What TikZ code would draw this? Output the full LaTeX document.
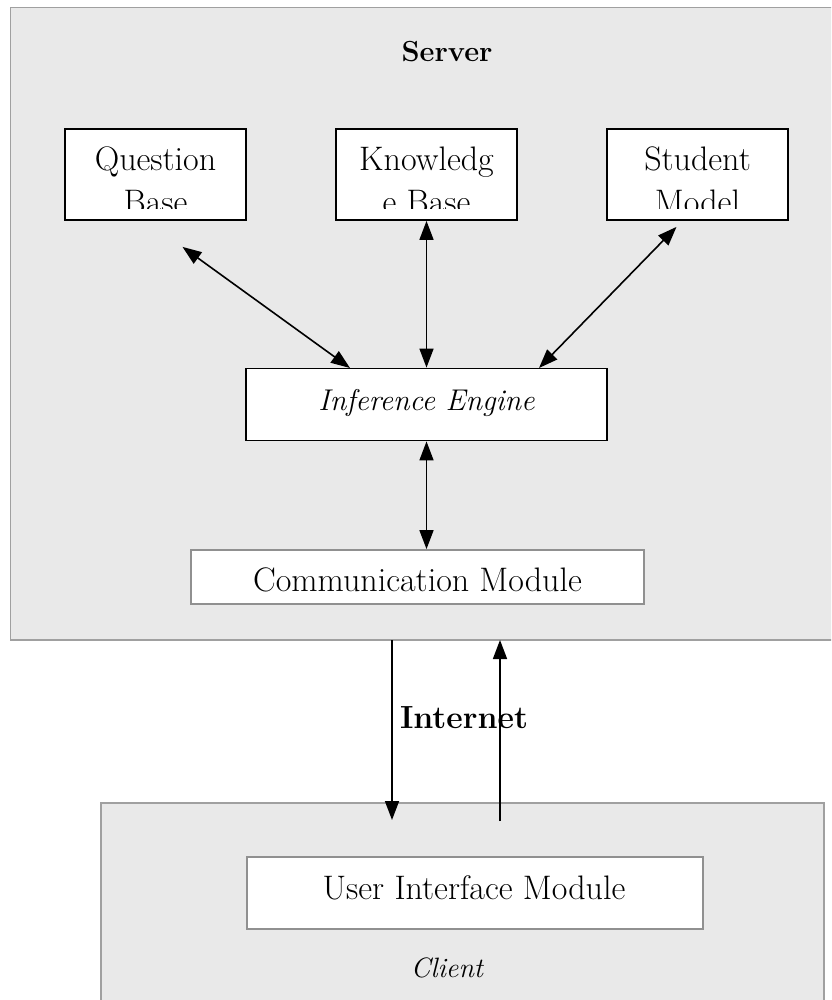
\documentclass[tikz,border=0pt]{standalone}
\usetikzlibrary{arrows.meta,calc}
\definecolor{panel}{HTML}{E9E9E9}
\definecolor{panelline}{HTML}{A0A0A0}
\definecolor{modline}{HTML}{909090}
\begin{document}
\begin{tikzpicture}[x=1pt,y=-1pt,
  txt/.style={font=\fontsize{34}{40}\selectfont, inner sep=0pt, anchor=base},
  box/.style={draw=black, line width=1.8pt, fill=white, inner sep=0pt},
  modbox/.style={draw=modline, line width=1.8pt, fill=white, inner sep=0pt},
  link/.style={line width=1.6pt, {Triangle[length=19pt,width=14pt]}-{Triangle[length=19pt,width=14pt]}},
  onearrow/.style={line width=1.6pt, -{Triangle[length=19pt,width=14pt]}}
]
\clip (0,0) rectangle (831,1000);
\useasboundingbox (0,0) rectangle (831,1000);
\fill[white] (0,0) rectangle (831,1000);

% Server panel
\draw[fill=panel, draw=panelline, line width=1.8pt] (10.5,7.5) rectangle (845,640);
\node[font=\fontsize{29}{34}\selectfont\bfseries] (server) at (447,52) {Server};

% top boxes
\node[box, minimum width=181pt, minimum height=91pt] (qb) at (155.5,174.5) {};
\node[box, minimum width=181pt, minimum height=91pt] (kb) at (426.5,174.5) {};
\node[box, minimum width=181pt, minimum height=91pt] (sm) at (697.5,174.5) {};
\begin{scope}
  \clip (60,131) rectangle (800,209);
  \node[txt] (qb1) at (155.5,171) {Question};
  \node[txt] (qb2) at (155.5,214) {Base};
  \node[txt] (kb1) at (426.5,171) {Knowledg};
  \node[txt] (kb2) at (426.5,214) {e Base};
  \node[txt] (sm1) at (697.5,171) {Student};
  \node[txt] (sm2) at (697.5,214) {Model};
\end{scope}

% inference engine
\node[box, minimum width=361pt, minimum height=72pt] (ie) at (426.5,404.5) {};
\node[txt, font=\fontsize{30}{36}\selectfont\itshape] (iet) at (426.5,410) {Inference Engine};

% communication module
\node[modbox, minimum width=453pt, minimum height=54pt] (cm) at (417.5,577) {};
\node[txt] (cmt) at (417.5,591) {Communication Module};

% arrows inside server
\coordinate (qa) at ($(qb.south)+(27,26)$);
\coordinate (qe) at (350,368);
\coordinate (sa) at ($(sm.south)+(-21,6)$);
\coordinate (se) at (539,368);
\draw[link] (qa) -- (qe);
\draw[link] (kb.south) -- (ie.north);
\draw[link] (sa) -- (se);
\draw[link] (ie.south) -- (cm.north -| ie.south);

% Client panel
\draw[fill=panel, draw=panelline, line width=1.8pt] (101,803) rectangle (824,1010);
\node[modbox, minimum width=456pt, minimum height=72pt] (ui) at (475,893) {};
\node[txt] (uit) at (474,899) {User Interface Module};
\node[font=\fontsize{28}{33}\selectfont\itshape, inner sep=0pt] (client) at (447,968) {Client};

% Internet
\node[font=\fontsize{32}{38}\selectfont\bfseries, inner sep=0pt] (inet) at (464,718) {Internet};
\coordinate (dtop) at (392,640);
\coordinate (dbot) at (392,820);
\coordinate (utop) at (500,640);
\coordinate (ubot) at (500,821);
\draw[onearrow] (dtop) -- (dbot);
\draw[onearrow] (ubot) -- (utop);
\end{tikzpicture}
\end{document}
